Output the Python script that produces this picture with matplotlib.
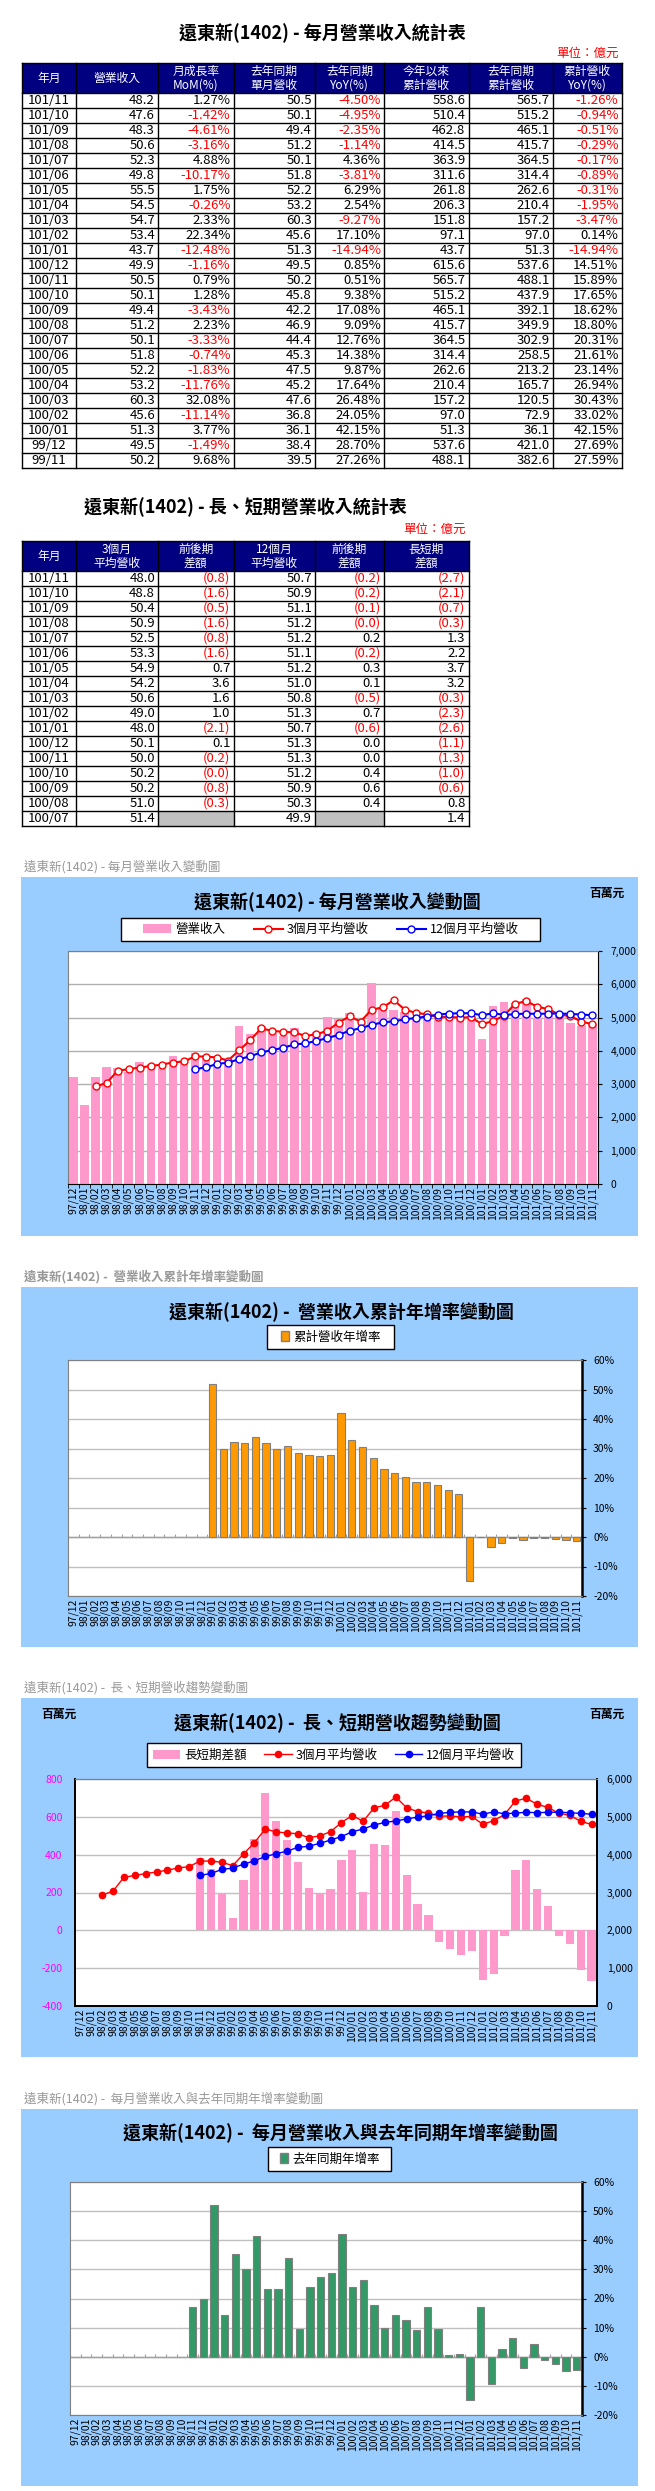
import numpy as np
import matplotlib.pyplot as plt
from matplotlib.patches import Rectangle, Patch
from matplotlib.lines import Line2D
from matplotlib.ticker import FuncFormatter

plt.rcParams['font.family'] = ['Noto Sans CJK TC', 'DejaVu Sans']
plt.rcParams['axes.unicode_minus'] = False

# ---- data: monthly table (億元) ----
tbl_months = ['101/11', '101/10', '101/09', '101/08', '101/07', '101/06', '101/05', '101/04',
              '101/03', '101/02', '101/01', '100/12', '100/11', '100/10', '100/09', '100/08',
              '100/07', '100/06', '100/05', '100/04', '100/03', '100/02', '100/01', '99/12', '99/11']
tbl_rev = [48.2, 47.6, 48.3, 50.6, 52.3, 49.8, 55.5, 54.5, 54.7, 53.4, 43.7, 49.9, 50.5,
           50.1, 49.4, 51.2, 50.1, 51.8, 52.2, 53.2, 60.3, 45.6, 51.3, 49.5, 50.2]
tbl_mom = [1.27, -1.42, -4.61, -3.16, 4.88, -10.17, 1.75, -0.26, 2.33, 22.34, -12.48, -1.16, 0.79,
           1.28, -3.43, 2.23, -3.33, -0.74, -1.83, -11.76, 32.08, -11.14, 3.77, -1.49, 9.68]
tbl_ly_rev = [50.5, 50.1, 49.4, 51.2, 50.1, 51.8, 52.2, 53.2, 60.3, 45.6, 51.3, 49.5, 50.2,
              45.8, 42.2, 46.9, 44.4, 45.3, 47.5, 45.2, 47.6, 36.8, 36.1, 38.4, 39.5]
tbl_yoy = [-4.50, -4.95, -2.35, -1.14, 4.36, -3.81, 6.29, 2.54, -9.27, 17.10, -14.94, 0.85, 0.51,
           9.38, 17.08, 9.09, 12.76, 14.38, 9.87, 17.64, 26.48, 24.05, 42.15, 28.70, 27.26]
tbl_cum = [558.6, 510.4, 462.8, 414.5, 363.9, 311.6, 261.8, 206.3, 151.8, 97.1, 43.7, 615.6, 565.7,
           515.2, 465.1, 415.7, 364.5, 314.4, 262.6, 210.4, 157.2, 97.0, 51.3, 537.6, 488.1]
tbl_ly_cum = [565.7, 515.2, 465.1, 415.7, 364.5, 314.4, 262.6, 210.4, 157.2, 97.0, 51.3, 537.6, 488.1,
              437.9, 392.1, 349.9, 302.9, 258.5, 213.2, 165.7, 120.5, 72.9, 36.1, 421.0, 382.6]
tbl_cum_yoy = [-1.26, -0.94, -0.51, -0.29, -0.17, -0.89, -0.31, -1.95, -3.47, 0.14, -14.94, 14.51, 15.89,
               17.65, 18.62, 18.80, 20.31, 21.61, 23.14, 26.94, 30.43, 33.02, 42.15, 27.69, 27.59]

# ---- data: long / short term table (億元) ----
ls_months = tbl_months[:17]
ls_ma3 = [48.0, 48.8, 50.4, 50.9, 52.5, 53.3, 54.9, 54.2, 50.6, 49.0, 48.0, 50.1, 50.0, 50.2, 50.2, 51.0, 51.4]
ls_d3 = [-0.8, -1.6, -0.5, -1.6, -0.8, -1.6, 0.7, 3.6, 1.6, 1.0, -2.1, 0.1, -0.2, -0.0, -0.8, -0.3, None]
ls_ma12 = [50.7, 50.9, 51.1, 51.2, 51.2, 51.1, 51.2, 51.0, 50.8, 51.3, 50.7, 51.3, 51.3, 51.2, 50.9, 50.3, 49.9]
ls_d12 = [-0.2, -0.2, -0.1, -0.0, 0.2, -0.2, 0.3, 0.1, -0.5, 0.7, -0.6, 0.0, 0.0, 0.4, 0.6, 0.4, None]
ls_spread = [-2.7, -2.1, -0.7, -0.3, 1.3, 2.2, 3.7, 3.2, -0.3, -2.3, -2.6, -1.1, -1.3, -1.0, -0.6, 0.8, 1.4]

# ---- data: charts (百萬元 / %) ----
months = ['97/12', '98/01', '98/02', '98/03', '98/04', '98/05', '98/06', '98/07', '98/08', '98/09',
          '98/10', '98/11', '98/12', '99/01', '99/02', '99/03', '99/04', '99/05', '99/06', '99/07',
          '99/08', '99/09', '99/10', '99/11', '99/12', '100/01', '100/02', '100/03', '100/04', '100/05',
          '100/06', '100/07', '100/08', '100/09', '100/10', '100/11', '100/12', '101/01', '101/02',
          '101/03', '101/04', '101/05', '101/06', '101/07', '101/08', '101/09', '101/10', '101/11']
nan = np.nan
revenue = [3200, 2370, 3220, 3520, 3470, 3360, 3670, 3600, 3500, 3850, 3700, 3950, 3840, 3610, 3680,
           4760, 4520, 4750, 4530, 4440, 4690, 4220, 4580, 5020, 4950, 5130, 4560, 6030, 5320, 5220,
           5180, 5010, 5120, 4940, 5010, 5050, 4990, 4370, 5340, 5470, 5450, 5550, 4980, 5230, 5060,
           4830, 4760, 4820]
ma3 = [nan, nan, 2930, 3037, 3403, 3450, 3500, 3543, 3590, 3650, 3683, 3833, 3830, 3800, 3710,
       4017, 4320, 4677, 4600, 4573, 4553, 4450, 4497, 4607, 4850, 5033, 4880, 5240, 5303, 5523,
       5240, 5140, 5100, 5020, 5020, 5000, 5010, 4800, 4900, 5060, 5420, 5490, 5330, 5250, 5090,
       5040, 4880, 4800]
ma12 = [nan, nan, nan, nan, nan, nan, nan, nan, nan, nan, nan, 3451, 3504, 3608, 3646,
        3749, 3837, 3953, 4024, 4094, 4193, 4224, 4298, 4387, 4479, 4606, 4679, 4785, 4852, 4891,
        4945, 4990, 5030, 5090, 5120, 5130, 5130, 5070, 5130, 5080, 5100, 5120, 5110, 5120, 5120,
        5110, 5090, 5070]
spread = [nan, nan, nan, nan, nan, nan, nan, nan, nan, nan, nan, 382, 326, 192, 64,
          268, 483, 724, 576, 479, 360, 226, 199, 220, 371, 427, 201, 455, 451, 632,
          295, 140, 80, -60, -100, -130, -110, -260, -230, -30, 320, 370, 220, 130, -30,
          -70, -210, -270]
cum_yoy = [nan, nan, nan, nan, nan, nan, nan, nan, nan, nan, nan, nan, nan, 52.0, 30.0,
           32.1, 31.9, 34.0, 31.9, 30.0, 30.8, 28.5, 27.8, 27.59, 27.69, 42.15, 33.02, 30.43, 26.94, 23.14,
           21.61, 20.31, 18.80, 18.62, 17.65, 15.89, 14.51, -14.94, 0.14, -3.47, -1.95, -0.31, -0.89, -0.17, -0.29,
           -0.51, -0.94, -1.26]
yoy = [nan, nan, nan, nan, nan, nan, nan, nan, nan, nan, nan, 17.0, 20.0, 52.2, 14.3,
       35.2, 30.3, 41.4, 23.4, 23.3, 34.0, 9.6, 23.8, 27.26, 28.70, 42.15, 24.05, 26.48, 17.64, 9.87,
       14.38, 12.76, 9.09, 17.08, 9.38, 0.51, 0.85, -14.94, 17.10, -9.27, 2.54, 6.29, -3.81, 4.36, -1.14,
       -2.35, -4.95, -4.50]

W, H = 655, 2491
fig = plt.figure(figsize=(W / 100, H / 100), dpi=100)
bg = fig.add_axes([0, 0, 1, 1])
bg.set_xlim(0, W)
bg.set_ylim(H, 0)
bg.axis('off')

BLUE_BG = '#99CCFF'
TITLE = '遠東新(1402)'


def add_ax(x0, y0, x1, y1):
    return fig.add_axes([x0 / W, 1 - y1 / H, (x1 - x0) / W, (y1 - y0) / H])


def fig_box(x0, y0, x1, y1):
    return (x0 / W, 1 - y1 / H, (x1 - x0) / W, (y1 - y0) / H)


def num_cell(v, fmt):
    if v is None:
        return ('', 'black')
    return (fmt.format(v), 'red' if v < 0 else 'black')


def par_cell(v):
    if v is None:
        return ('', 'black')
    if np.signbit(v):
        return ('({:.1f})'.format(abs(v)), 'red')
    return ('{:.1f}'.format(v), 'black')


def draw_table(top, cols, headers, cells, gray=()):
    hdr_h, row_h = 30, 15
    bottom = top + hdr_h + len(cells) * row_h
    bg.add_patch(Rectangle((cols[0], top), cols[-1] - cols[0], hdr_h, fc='#000080', ec='none'))
    for r, c in gray:
        y = top + hdr_h + r * row_h
        bg.add_patch(Rectangle((cols[c], y), cols[c + 1] - cols[c], row_h, fc='#C0C0C0', ec='none'))
    for i, h in enumerate(headers):
        bg.text((cols[i] + cols[i + 1]) / 2, top + hdr_h / 2, h, color='white', fontsize=8.5,
                ha='center', va='center', linespacing=1.1)
    for r, row in enumerate(cells):
        yc = top + hdr_h + (r + 0.5) * row_h
        for c, (txt, col) in enumerate(row):
            if c == 0:
                bg.text((cols[0] + cols[1]) / 2, yc, txt, color=col, fontsize=9.5, ha='center', va='center')
            else:
                bg.text(cols[c + 1] - 3, yc, txt, color=col, fontsize=9.5, ha='right', va='center')
    bg.plot([cols[0], cols[-1]], [top, top], color='black', lw=1)
    for r in range(len(cells) + 1):
        y = top + hdr_h + r * row_h
        bg.plot([cols[0], cols[-1]], [y, y], color='black', lw=1)
    for x in cols:
        bg.plot([x, x], [top, bottom], color='black', lw=1)


cols = [22, 76, 158, 233.5, 315, 384, 468.5, 553, 621.5]

# ---- table 1 ----
bg.text(322, 33, TITLE + ' - 每月營業收入統計表', fontsize=13, fontweight='bold', ha='center', va='center')
bg.text(619, 53, '單位：億元', color='red', fontsize=9, ha='right', va='center')
cells1 = []
for i in range(len(tbl_months)):
    cells1.append([(tbl_months[i], 'black'),
                   num_cell(tbl_rev[i], '{:.1f}'),
                   num_cell(tbl_mom[i], '{:.2f}%'),
                   num_cell(tbl_ly_rev[i], '{:.1f}'),
                   num_cell(tbl_yoy[i], '{:.2f}%'),
                   num_cell(tbl_cum[i], '{:.1f}'),
                   num_cell(tbl_ly_cum[i], '{:.1f}'),
                   num_cell(tbl_cum_yoy[i], '{:.2f}%')])
draw_table(63, cols, ['年月', '營業收入', '月成長率\nMoM(%)', '去年同期\n單月營收', '去年同期\nYoY(%)',
                      '今年以來\n累計營收', '去年同期\n累計營收', '累計營收\nYoY(%)'], cells1)

# ---- table 2 ----
bg.text(245, 507, TITLE + ' - 長、短期營業收入統計表', fontsize=13, fontweight='bold', ha='center', va='center')
bg.text(466, 529, '單位：億元', color='red', fontsize=9, ha='right', va='center')
cells2 = []
for i in range(len(ls_months)):
    cells2.append([(ls_months[i], 'black'),
                   ('{:.1f}'.format(ls_ma3[i]), 'black'),
                   par_cell(ls_d3[i]),
                   ('{:.1f}'.format(ls_ma12[i]), 'black'),
                   par_cell(ls_d12[i]),
                   par_cell(ls_spread[i])])
draw_table(541, cols[:7], ['年月', '3個月\n平均營收', '前後期\n差額', '12個月\n平均營收', '前後期\n差額',
                           '長短期\n差額'], cells2, gray=[(16, 2), (16, 4)])

x = np.arange(len(months))
bounds = np.arange(-0.5, len(months), 1)


def frame(top, bottom, caption, title, title_xy, bold_caption=False):
    bg.text(24, top - 10, caption, color='#999999', fontsize=9, ha='left', va='center',
            fontweight='bold' if bold_caption else 'normal')
    bg.add_patch(Rectangle((21, top), 617, bottom - top, fc=BLUE_BG, ec='none'))
    bg.text(title_xy[0], title_xy[1], title, fontsize=13, fontweight='bold', ha='center', va='center')


def legend_box(x0, y0, x1, y1, handles, labels, ncol, **kw):
    bg.add_patch(Rectangle((x0, y0), x1 - x0, y1 - y0, fc='white', ec='black', lw=1))
    return fig.legend(handles, labels, ncol=ncol, loc='center',
                      bbox_to_anchor=fig_box(x0, y0, x1, y1), frameon=False,
                      fontsize=9, borderaxespad=0, **kw)


def style_xlabels(ax):
    ax.set_xlim(-0.5, len(months) - 0.5)
    ax.set_xticks(x)
    ax.set_xticklabels(months, rotation=90, fontsize=7.5)
    ax.tick_params(axis='x', which='major', length=0, pad=2)


comma = FuncFormatter(lambda v, _: '{:,.0f}'.format(v))
pct = FuncFormatter(lambda v, _: '{:.0f}%'.format(v))

# ---- chart 1: monthly revenue ----
frame(877, 1236, TITLE + ' - 每月營業收入變動圖', TITLE + ' - 每月營業收入變動圖', (337, 902))
bg.text(607, 893, '百萬元', fontsize=8.5, fontweight='bold', ha='center', va='center')
ax1 = add_ax(68, 951, 598, 1184)
ax1.bar(x, revenue, width=0.78, color='#FF99CC', zorder=2)
ax1.plot(x, ma3, color='red', lw=1.5, marker='o', ms=5, mfc='white', mec='red', mew=1, zorder=3)
ax1.plot(x, ma12, color='blue', lw=1.5, marker='o', ms=5, mfc='white', mec='blue', mew=1, zorder=3)
ax1.set_ylim(0, 7000)
ax1.set_yticks(np.arange(0, 7001, 1000))
ax1.yaxis.set_major_formatter(comma)
ax1.yaxis.tick_right()
ax1.tick_params(axis='y', labelsize=7.5, length=3, pad=6)
ax1.yaxis.grid(True, color='#B0B0B0', lw=1)
ax1.set_axisbelow(True)
style_xlabels(ax1)
ax1.set_xticks(bounds, minor=True)
ax1.tick_params(axis='x', which='minor', length=3, direction='out')
for s in ['left', 'top']:
    ax1.spines[s].set_color('#808080')
legend_box(121, 918, 540, 941,
           [Patch(fc='#FF99CC'),
            Line2D([], [], color='red', lw=1.5, marker='o', ms=5, mfc='white', mec='red'),
            Line2D([], [], color='blue', lw=1.5, marker='o', ms=5, mfc='white', mec='blue')],
           ['營業收入', '3個月平均營收', '12個月平均營收'], 3, handlelength=2.3, handletextpad=0.3,
           columnspacing=2.3)


def growth_chart(top, bottom, cap, title, title_xy, leg_xy, plot_xy, values, color, label, bold_caption=False):
    frame(top, bottom, cap, title, title_xy, bold_caption)
    legend_box(*leg_xy, [Patch(fc=color, ec='#808080')], [label], 1,
               handlelength=0.7, handleheight=0.9, handletextpad=0.3)
    ax = add_ax(*plot_xy)
    ax.bar(x, values, width=0.68, color=color, edgecolor='#808080', lw=0.8, zorder=3)
    ax.axhline(0, color='#A0A0A0', lw=1, zorder=2)
    ax.vlines(bounds, 0, 1.0, color='#A0A0A0', lw=0.8, zorder=2)
    ax.set_ylim(-20, 60)
    ax.set_yticks(np.arange(-20, 61, 10))
    ax.yaxis.set_major_formatter(pct)
    ax.yaxis.tick_right()
    ax.tick_params(axis='y', labelsize=7.5, length=3, pad=5)
    ax.yaxis.grid(True, color='#C0C0C0', lw=1)
    ax.set_axisbelow(True)
    style_xlabels(ax)
    for s in ['left', 'top', 'bottom']:
        ax.spines[s].set_color('#808080')
    ax.spines['right'].set_linewidth(1.8)
    return ax


# ---- chart 2: cumulative YoY ----
growth_chart(1287, 1647, TITLE + ' -  營業收入累計年增率變動圖', TITLE + ' -  營業收入累計年增率變動圖',
             (341, 1312), (267, 1325, 394, 1349), (68, 1360, 582, 1596), cum_yoy, '#FF9900',
             '累計營收年增率', bold_caption=True)

# ---- chart 3: long/short trend ----
frame(1698, 2057, TITLE + ' -  長、短期營收趨勢變動圖', TITLE + ' -  長、短期營收趨勢變動圖', (337, 1723))
bg.text(59, 1714, '百萬元', fontsize=8.5, fontweight='bold', ha='center', va='center')
bg.text(607, 1714, '百萬元', fontsize=8.5, fontweight='bold', ha='center', va='center')
ax3 = add_ax(75, 1779, 597, 2006)
ax3.bar(x, spread, width=0.75, color='#FF99CC', zorder=2)
ax3.set_ylim(-400, 800)
ax3.set_yticks(np.arange(-400, 801, 200))
ax3.tick_params(axis='y', labelsize=7.5, labelcolor='#FF00FF', length=0, pad=9)
ax3.yaxis.grid(True, color='#C0C0C0', lw=1)
ax3.set_axisbelow(True)
style_xlabels(ax3)
ax3b = ax3.twinx()
ax3b.plot(x, ma3, color='red', lw=1, marker='o', ms=4.5)
ax3b.plot(x, ma12, color='blue', lw=1, marker='o', ms=4.5)
ax3b.set_ylim(0, 6000)
ax3b.set_yticks(np.arange(0, 6001, 1000))
ax3b.yaxis.set_major_formatter(comma)
ax3b.tick_params(axis='y', labelsize=7.5, length=0, pad=7)
for a in (ax3, ax3b):
    for s in ['left', 'bottom', 'right']:
        a.spines[s].set_linewidth(1.3)
    a.spines['top'].set_color('#808080')
legend_box(147, 1743, 521, 1767,
           [Patch(fc='#FF99CC'),
            Line2D([], [], color='red', lw=1, marker='o', ms=4.5),
            Line2D([], [], color='blue', lw=1, marker='o', ms=4.5)],
           ['長短期差額', '3個月平均營收', '12個月平均營收'], 3, handlelength=2.2, handletextpad=0.3,
           columnspacing=1.4)

# ---- chart 4: monthly YoY ----
growth_chart(2109, 2486, TITLE + ' -  每月營業收入與去年同期年增率變動圖',
             TITLE + ' -  每月營業收入與去年同期年增率變動圖', (340, 2133), (268, 2147, 391, 2171),
             (70, 2182, 582, 2415), yoy, '#339966', '去年同期年增率')

fig.savefig('out.png', dpi=100)
